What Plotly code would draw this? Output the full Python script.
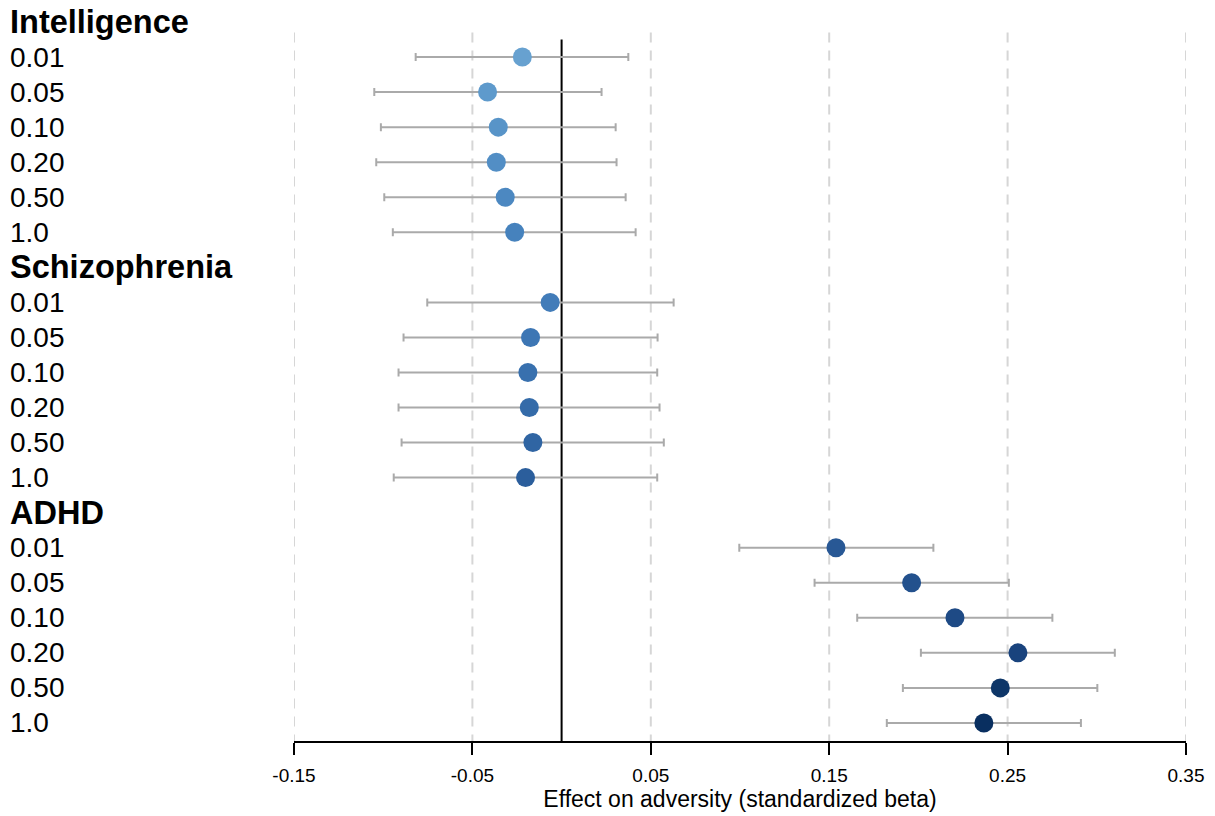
import plotly.graph_objects as go

groups = ["Intelligence", "Schizophrenia", "ADHD"]
thresholds = ["0.01", "0.05", "0.10", "0.20", "0.50", "1.0"]

beta_intelligence = [-0.0220, -0.0415, -0.0355, -0.0366, -0.0316, -0.0263]
lo_intelligence = [-0.0818, -0.1050, -0.1013, -0.1039, -0.0994, -0.0946]
hi_intelligence = [0.0374, 0.0224, 0.0303, 0.0308, 0.0359, 0.0415]

beta_schizophrenia = [-0.0064, -0.0174, -0.0189, -0.0181, -0.0161, -0.0202]
lo_schizophrenia = [-0.0753, -0.0886, -0.0914, -0.0914, -0.0897, -0.0941]
hi_schizophrenia = [0.0628, 0.0538, 0.0536, 0.0549, 0.0573, 0.0536]

beta_adhd = [0.1538, 0.1962, 0.2205, 0.2558, 0.2459, 0.2367]
lo_adhd = [0.0996, 0.1418, 0.1657, 0.2014, 0.1913, 0.1823]
hi_adhd = [0.2084, 0.2507, 0.2751, 0.3101, 0.3003, 0.2911]

x_ticks = [-0.15, -0.05, 0.05, 0.15, 0.25, 0.35]
x_ticklabels = ["-0.15", "-0.05", "0.05", "0.15", "0.25", "0.35"]

colors = ["#67a1d0", "#5e9acc", "#5894c8", "#528ec5", "#4c88c1", "#4682bd",
          "#427cb9", "#3d76b4", "#3870ae", "#346ba9", "#3065a3", "#2b5e9c",
          "#285895", "#23518d", "#1e4a85", "#19437d", "#0e3668", "#092f60"]

betas = [beta_intelligence, beta_schizophrenia, beta_adhd]
los = [lo_intelligence, lo_schizophrenia, lo_adhd]
his = [hi_intelligence, hi_schizophrenia, hi_adhd]

L, R = 294, 29
pw = 1215 - L - R
LABEL_X = (8 - L) / pw
LABEL_FONT = "Liberation Sans, Arial, sans-serif"

fig = go.Figure()
annotations = []
row = 0
ci = 0
for g, b, lo, hi in zip(groups, betas, los, his):
    annotations.append(dict(x=LABEL_X, xref="paper", y=row, yref="y", text="<b>%s</b>" % g,
                            showarrow=False, xanchor="left", yanchor="middle",
                            font=dict(family=LABEL_FONT, size=32.5, color="black")))
    row += 1
    for t, bv, lv, hv in zip(thresholds, b, lo, hi):
        annotations.append(dict(x=LABEL_X, xref="paper", y=row, yref="y", text=t,
                                showarrow=False, xanchor="left", yanchor="middle",
                                font=dict(family=LABEL_FONT, size=28, color="black")))
        fig.add_trace(go.Scatter(
            x=[bv], y=[row], mode="markers",
            marker=dict(size=19, color=colors[ci], line=dict(width=0)),
            error_x=dict(type="data", symmetric=False, array=[hv - bv], arrayminus=[bv - lv],
                         color="#aaaaaa", thickness=2, width=4),
            showlegend=False, hoverinfo="x"))
        row += 1
        ci += 1

shapes = []
for xv in x_ticks:
    shapes.append(dict(type="line", xref="x", yref="y", x0=xv, x1=xv, y0=0.3, y1=20.52,
                       line=dict(color="#d6d6d6", width=2, dash="10px,8px"), layer="below"))
shapes.append(dict(type="line", xref="x", yref="y", x0=0, x1=0, y0=0.5, y1=20.52,
                   line=dict(color="black", width=2), layer="below"))

fig.update_layout(
    width=1215, height=816,
    margin=dict(l=L, r=R, t=5, b=75),
    paper_bgcolor="white", plot_bgcolor="white",
    xaxis=dict(range=[-0.15, 0.35], tickvals=x_ticks, ticktext=x_ticklabels,
               showgrid=False, zeroline=False, showline=True, linecolor="black", linewidth=2,
               ticks="outside", ticklen=12, tickwidth=2, tickcolor="black",
               ticklabelstandoff=4,
               tickfont=dict(family=LABEL_FONT, size=19, color="black"),
               title=dict(text="Effect on adversity (standardized beta)", standoff=6,
                          font=dict(family=LABEL_FONT, size=23, color="black"))),
    yaxis=dict(range=[20.515, -0.485], showgrid=False, zeroline=False, showticklabels=False,
               showline=False, ticks=""),
    annotations=annotations,
    shapes=shapes,
)

fig.write_html("out.html")
